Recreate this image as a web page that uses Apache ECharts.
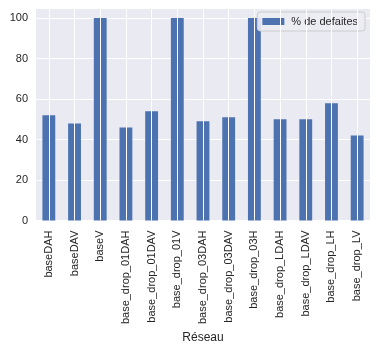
<!DOCTYPE html>
<html>
<head>
<meta charset="utf-8">
<script src="https://cdn.jsdelivr.net/npm/echarts@6/dist/echarts.min.js"></script>
<style>
  html, body { margin: 0; padding: 0; background: #ffffff; }
  #chart { width: 377px; height: 349px; }
</style>
</head>
<body>
<div id="chart"></div>
<script>
// Network variants and their defeat percentage
const categories = [
  'baseDAH', 'baseDAV', 'baseV',
  'base_drop_01DAH', 'base_drop_01DAV', 'base_drop_01V',
  'base_drop_03DAH', 'base_drop_03DAV', 'base_drop_03H',
  'base_drop_LDAH', 'base_drop_LDAV', 'base_drop_LH', 'base_drop_LV'
];
const defeatPct = [52, 48, 100, 46, 54, 100, 49, 51, 100, 50, 50, 58, 42];
const yTicks = [0, 20, 40, 60, 80, 100];

const seriesName = '% de defaites';
const axisName = 'Réseau';
const font = '"Liberation Sans", Arial, sans-serif';
const textColor = '#262626';

const chart = echarts.init(document.getElementById('chart'), null, { renderer: 'canvas' });

chart.setOption({
  animation: false,
  backgroundColor: '#ffffff',
  textStyle: { fontFamily: font },
  grid: {
    left: 36, right: 7, top: 8, bottom: 124,
    show: true, backgroundColor: '#EAEAF2', borderWidth: 0
  },
  legend: {
    data: [seriesName],
    right: 12, top: 12,
    orient: 'vertical',
    icon: 'rect',
    itemWidth: 22, itemHeight: 7,
    padding: [4, 7, 4, 5],
    backgroundColor: 'rgba(236,236,243,0.9)',
    borderColor: '#cccccc', borderWidth: 1, borderRadius: 3,
    formatter: name => '{gap|}{t|' + name + '}',
    textStyle: {
      fontSize: 11, color: textColor, fontFamily: font,
      rich: {
        gap: { width: 2 },
        t: { width: 67, fontSize: 11, color: textColor, fontFamily: font }
      }
    }
  },
  xAxis: {
    type: 'category',
    data: categories,
    name: axisName,
    nameLocation: 'middle',
    nameGap: 104,
    nameTextStyle: { fontSize: 12, color: textColor, fontFamily: font },
    axisLine: { show: false },
    axisTick: { show: false },
    splitLine: { show: false },
    axisLabel: {
      rotate: 90, interval: 0, margin: 10,
      fontSize: 11, color: textColor, fontFamily: font
    }
  },
  yAxis: {
    type: 'value',
    min: 0, max: 105, interval: 20,
    axisLine: { show: false },
    axisTick: { show: false },
    splitLine: { show: true, lineStyle: { color: '#ffffff', width: 1 } },
    axisLabel: {
      margin: 8, fontSize: 11, color: textColor, fontFamily: font,
      formatter: v => (yTicks.indexOf(v) >= 0 ? String(v) : '')
    }
  },
  series: [
    {
      // vertical grid lines at each category centre, kept behind the bars
      name: 'grid',
      type: 'line',
      z: 1,
      data: categories.map(() => null),
      silent: true,
      markLine: {
        silent: true,
        symbol: ['none', 'none'],
        label: { show: false },
        lineStyle: { color: '#ffffff', width: 1, type: 'solid' },
        data: categories.map(c => ({ xAxis: c }))
      }
    },
    {
      name: seriesName,
      type: 'bar',
      z: 3,
      data: defeatPct,
      barCategoryGap: '50%',
      itemStyle: { color: '#4C72B0' }
    }
  ]
});
</script>
</body>
</html>
